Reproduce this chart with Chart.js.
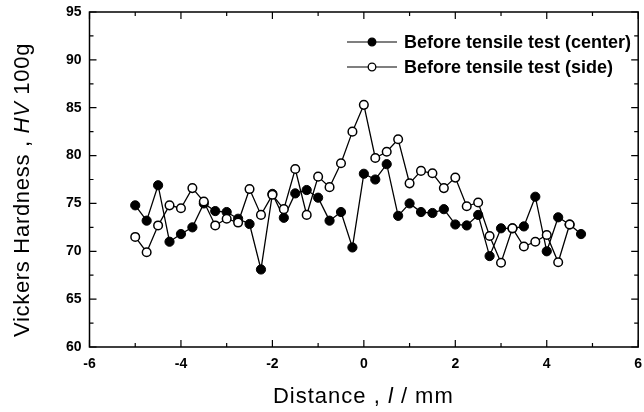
<!DOCTYPE html>
<html><head><meta charset="utf-8">
<script src="https://cdn.jsdelivr.net/npm/chart.js@4.4.0/dist/chart.umd.min.js"></script>
<style>html,body{margin:0;padding:0;background:#fff;overflow:hidden;}#wrap{width:644px;height:412px;position:relative;}canvas{display:block;}</style>
</head><body><div id="wrap"><canvas id="c" width="644" height="412" style="width:644px;height:412px"></canvas></div>
<script>
// Distance (mm) of each indentation
const distanceCenter = [-5,-4.75,-4.5,-4.25,-4,-3.75,-3.5,-3.25,-3,-2.75,-2.5,-2.25,-2,-1.75,-1.5,-1.25,-1,-0.75,-0.5,-0.25,0,0.25,0.5,0.75,1,1.25,1.5,1.75,2,2.25,2.5,2.75,3,3.25,3.5,3.75,4,4.25,4.5,4.75];
const hardnessCenter = [74.8,73.2,76.9,71.0,71.8,72.5,75.0,74.2,74.1,73.4,72.85,68.1,76.0,73.5,76.05,76.4,75.6,73.2,74.1,70.4,78.1,77.5,79.1,73.7,75.0,74.1,74.0,74.4,72.8,72.7,73.8,69.5,72.4,72.4,72.6,75.7,70.0,73.55,72.8,71.8];
const distanceSide = [-5,-4.75,-4.5,-4.25,-4,-3.75,-3.5,-3.25,-3,-2.75,-2.5,-2.25,-2,-1.75,-1.5,-1.25,-1,-0.75,-0.5,-0.25,0,0.25,0.5,0.75,1,1.25,1.5,1.75,2,2.25,2.5,2.75,3,3.25,3.5,3.75,4,4.25,4.5];
const hardnessSide = [71.5,69.9,72.7,74.8,74.5,76.6,75.2,72.7,73.4,73.0,76.5,73.8,75.9,74.4,78.6,73.8,77.8,76.7,79.2,82.5,85.3,79.75,80.4,81.7,77.1,78.4,78.15,76.6,77.7,74.7,75.1,71.6,68.8,72.4,70.5,71.0,71.7,68.85,72.8];
const seriesLabels = ["Before tensile test (center)", "Before tensile test (side)"];
const xTickLabels = ["-6","-4","-2","0","2","4","6"];
const xMajorTicks = [-6,-4,-2,0,2,4,6];
const xMinorTicks = [-5,-3,-1,1,3,5];
const yMajorTicks = [60,65,70,75,80,85,90,95];
const yMinorTicks = [62.5,67.5,72.5,77.5,82.5,87.5,92.5];
const xTitle = ["Distance , ", "l", " / mm"];
const yTitle = ["Vickers Hardness , ", "HV", " 100g"];

const toPts = (xs, ys) => xs.map((x, i) => ({x: x, y: ys[i]}));

const framePlugin = {
  id: 'frame',
  afterDraw(chart) {
    const ctx = chart.ctx, a = chart.chartArea;
    const xs = chart.scales.x, ys = chart.scales.y;
    ctx.save();
    ctx.setLineDash([]);
    ctx.lineDashOffset = 0;
    ctx.globalAlpha = 1;
    ctx.globalCompositeOperation = 'source-over';
    ctx.strokeStyle = '#000000';
    ctx.lineWidth = 1.5;
    ctx.beginPath();
    ctx.rect(a.left, a.top, a.right - a.left, a.bottom - a.top);
    ctx.stroke();
    ctx.lineWidth = 1.2;
    const tick = (v, len, horiz) => {
      ctx.beginPath();
      if (horiz) {
        const p = xs.getPixelForValue(v);
        ctx.moveTo(p, a.bottom); ctx.lineTo(p, a.bottom - len);
        ctx.moveTo(p, a.top); ctx.lineTo(p, a.top + len);
      } else {
        const p = ys.getPixelForValue(v);
        ctx.moveTo(a.left, p); ctx.lineTo(a.left + len, p);
        ctx.moveTo(a.right, p); ctx.lineTo(a.right - len, p);
      }
      ctx.stroke();
    };
    xMajorTicks.forEach(v => tick(v, 7, true));
    xMinorTicks.forEach(v => tick(v, 4, true));
    yMajorTicks.forEach(v => tick(v, 7, false));
    yMinorTicks.forEach(v => tick(v, 4, false));

    // axis titles
    ctx.fillStyle = '#000';
    ctx.textBaseline = 'alphabetic';
    const drawParts = (parts, fonts, spacing) => {
      ctx.letterSpacing = spacing;
      let widths = parts.map((t, i) => { ctx.font = fonts[i]; return ctx.measureText(t).width; });
      const total = widths.reduce((s, w) => s + w, 0);
      let x = -total / 2;
      parts.forEach((t, i) => { ctx.font = fonts[i]; ctx.textAlign = 'left'; ctx.fillText(t, x, 0); x += widths[i]; });
    };
    const reg = '22px "Liberation Sans", Arial, sans-serif';
    const ita = 'italic 22px "Liberation Sans", Arial, sans-serif';
    ctx.save();
    ctx.translate((a.left + a.right) / 2 - 0.5, 403);
    drawParts(xTitle, [reg, ita, reg], '1px');
    ctx.restore();
    ctx.save();
    ctx.translate(29, 190);
    ctx.rotate(-Math.PI / 2);
    drawParts(yTitle, [reg, ita, reg], '0.7px');
    ctx.restore();

    // legend
    ctx.letterSpacing = '0px';
    ctx.font = 'bold 18px "Liberation Sans", Arial, sans-serif';
    ctx.textAlign = 'left';
    ctx.textBaseline = 'middle';
    const rows = [42, 67];
    chart.data.datasets.forEach((ds, i) => {
      const y = rows[i];
      ctx.strokeStyle = '#000';
      ctx.lineWidth = 1.2;
      ctx.beginPath(); ctx.moveTo(347, y); ctx.lineTo(397, y); ctx.stroke();
      ctx.beginPath(); ctx.arc(372, y, 3.8, 0, Math.PI * 2);
      ctx.fillStyle = ds.pointBackgroundColor; ctx.fill();
      ctx.lineWidth = 1.3; ctx.stroke();
      ctx.fillStyle = '#000';
      ctx.fillText(ds.label, 404, y + 1);
    });
    ctx.restore();
  }
};

new Chart(document.getElementById('c'), {
  type: 'scatter',
  data: {
    datasets: [
      { label: seriesLabels[0], data: toPts(distanceCenter, hardnessCenter), showLine: true,
        borderColor: '#000', borderWidth: 1.3, pointRadius: 4.6, pointBackgroundColor: '#000',
        pointBorderColor: '#000', pointBorderWidth: 1, order: 1 },
      { label: seriesLabels[1], data: toPts(distanceSide, hardnessSide), showLine: true,
        borderColor: '#000', borderWidth: 1.3, pointRadius: 4.3, pointBackgroundColor: '#fff',
        pointBorderColor: '#000', pointBorderWidth: 1.5, order: 0 }
    ]
  },
  options: {
    responsive: false, maintainAspectRatio: false, animation: false, devicePixelRatio: 1,
    layout: { padding: { top: 12, right: 2, left: 0, bottom: 0 } },
    plugins: { legend: { display: false }, tooltip: { enabled: false } },
    scales: {
      x: {
        type: 'linear', min: -6, max: 6,
        afterFit(s) { s.height = 65; s.paddingLeft = 0; s.paddingRight = 0; },
        afterBuildTicks(s) { s.ticks = xMajorTicks.map(v => ({ value: v })); },
        grid: { display: false, drawTicks: false }, border: { display: false },
        ticks: { padding: 9, color: '#000', maxRotation: 0, autoSkip: false,
          font: { family: '"Liberation Sans", Arial, sans-serif', size: 14, weight: 'bold' },
          callback: (v) => xTickLabels[xMajorTicks.indexOf(v)] }
      },
      y: {
        type: 'linear', min: 60, max: 95,
        afterFit(s) { s.width = 89.5; s.paddingTop = 0; s.paddingBottom = 0; },
        afterBuildTicks(s) { s.ticks = yMajorTicks.map(v => ({ value: v })); },
        grid: { display: false, drawTicks: false }, border: { display: false },
        ticks: { padding: 8, color: '#000', autoSkip: false,
          font: { family: '"Liberation Sans", Arial, sans-serif', size: 14, weight: 'bold' } }
      }
    }
  },
  plugins: [framePlugin]
});
</script></body></html>
